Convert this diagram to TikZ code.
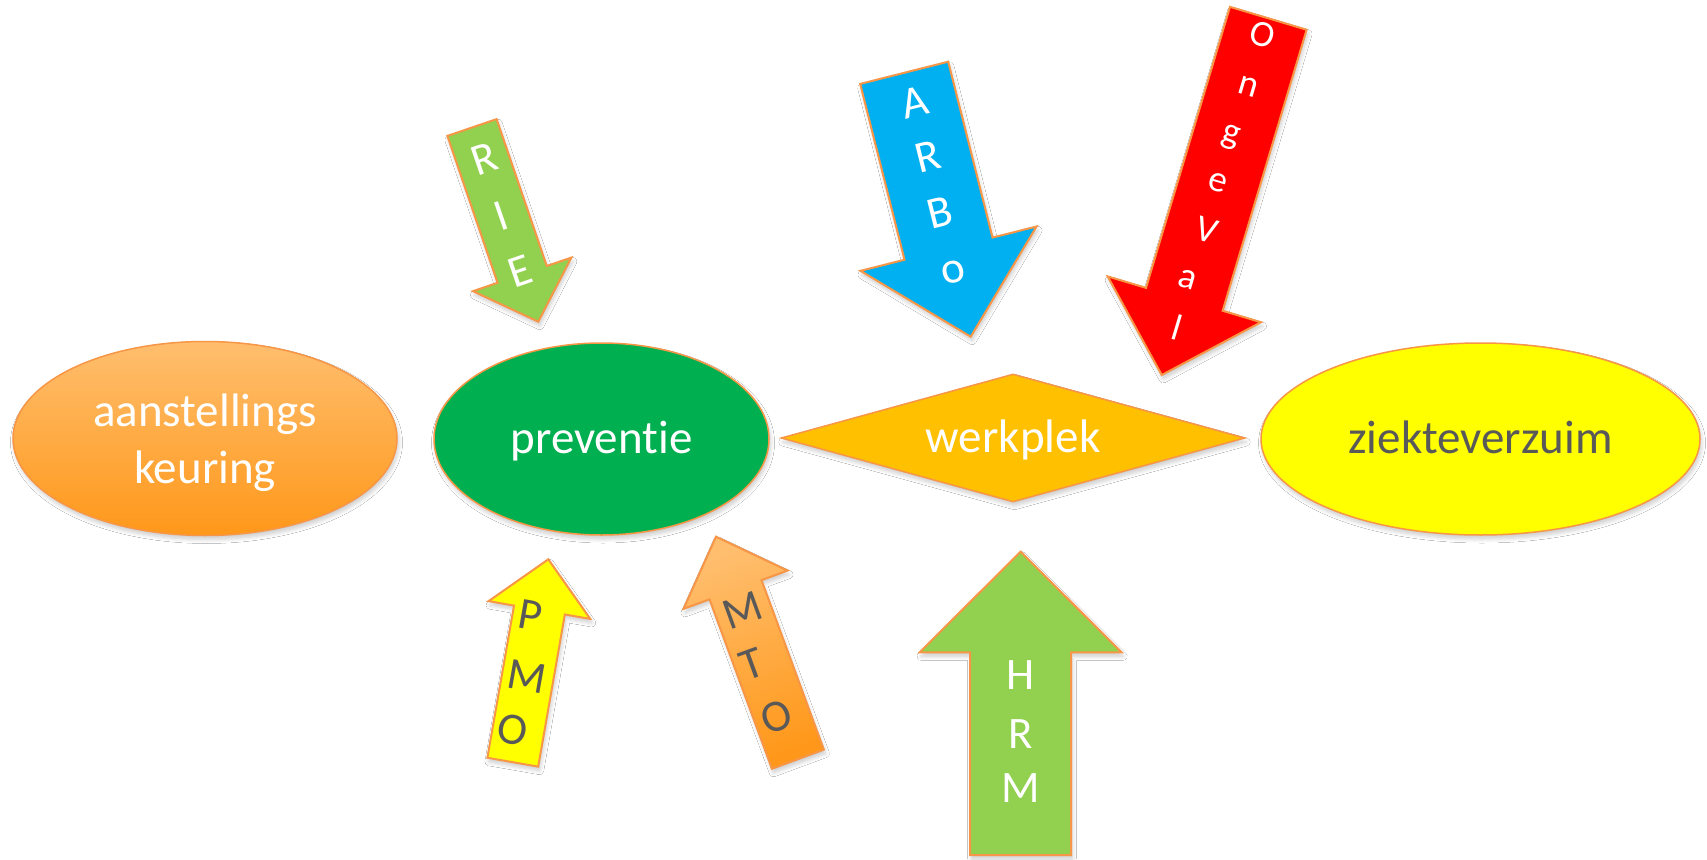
\documentclass[tikz,border=0pt]{standalone}
\usepackage{fontspec}
\setmainfont{Carlito}[Ligatures={NoCommon}]
\usetikzlibrary{calc,shapes.geometric,shadows.blur}

\definecolor{edge}{RGB}{247,150,70}
\definecolor{lightor}{RGB}{255,190,110}
\definecolor{darkor}{RGB}{255,152,26}
\definecolor{prevgreen}{RGB}{0,176,80}
\definecolor{amber}{RGB}{255,192,0}
\definecolor{lime}{RGB}{146,208,80}
\definecolor{sky}{RGB}{0,176,240}
\definecolor{ink}{RGB}{89,89,89}
\definecolor{lemon}{RGB}{255,255,0}
\definecolor{signal}{RGB}{255,0,0}

% block arrow: style, tail centre, tip, half shaft width, head length
% (the head is twice as wide as the shaft)
\newcommand\blockarrow[5]{%
  \coordinate (ba-base) at ($(#3)!#5pt!(#2)$);
  \path[#1]
    ($(#2)!#4pt!90:(#3)$) -- ($(ba-base)!#4pt!90:(#3)$)
    -- ($(ba-base)!2*#4pt!90:(#3)$) -- (#3)
    -- ($(ba-base)!2*#4pt!-90:(#3)$) -- ($(ba-base)!#4pt!-90:(#3)$)
    -- ($(#2)!#4pt!-90:(#3)$) -- cycle;
}

\tikzset{
  soft/.style={blur shadow={shadow xshift=1.5pt, shadow yshift=-4pt,
      shadow blur radius=4pt, shadow opacity=20, shadow blur steps=6}},
  term/.style={draw=edge, line width=1.5pt, inner sep=0pt, soft,
      font=\fontsize{47}{57}\selectfont, text=white,
      text height=38pt, text depth=10pt},
  termtext/.style={inner sep=0pt, font=\fontsize{47}{57}\selectfont, text=white},
  arrowbody/.style={draw=edge, line width=2pt, line join=miter, soft},
  letter/.style={inner sep=0pt, font=\fontsize{45}{54}\selectfont, text=white},
}

\begin{document}
\begin{tikzpicture}[x=1pt, y=-1pt]
\fill[white] (0,0) rectangle (1707,859);
\useasboundingbox (0,0) rectangle (1707,859);

% main chain
\node[term, ellipse, minimum width=384pt, minimum height=194pt,
      top color=lightor, bottom color=darkor] (keur) at (205,438.5) {};
\node[termtext, anchor=base] (keurA) at (205,426.7) {aanstellings};
\node[termtext, anchor=base] (keurB) at (205,483.3) {keuring};

\node[term, ellipse, minimum width=335pt, minimum height=192pt,
      fill=prevgreen] (prev) at (601.5,439) {preventie};

\node[term, diamond, aspect=3.6, minimum width=464pt, minimum height=128pt,
      fill=amber] (werk) at (1013,438) {werkplek};

\node[term, ellipse, minimum width=439pt, minimum height=192pt,
      fill=lemon, text=ink] (ziek) at (1480.5,439) {ziekteverzuim};

% RIE
\coordinate (rieT) at (472,127.5);
\coordinate (rieP) at (538.3,321.7);
\blockarrow{arrowbody, fill=lime}{rieT}{rieP}{26}{50}
\node[letter, rotate=19] (rie1) at (484,159) {R};
\node[letter, rotate=19] (rie2) at (501,216) {I};
\node[letter, rotate=19] (rie3) at (520,271) {E};

% ARBO
\coordinate (arboT) at (904.2,72.8);
\coordinate (arboP) at (970.7,336.7);
\blockarrow{arrowbody, fill=sky}{arboT}{arboP}{45.4}{90.8}
\node[letter, rotate=14] (arbo1) at (915,102) {A};
\node[letter, rotate=14] (arbo2) at (928,157) {R};
\node[letter, rotate=14] (arbo3) at (940,213) {B};
\node[letter, rotate=14] (arbo4) at (953,272) {o};

% OngeVal
\coordinate (ongT) at (1268.3,18.3);
\coordinate (ongP) at (1161.7,375);
\blockarrow{arrowbody, fill=signal}{ongT}{ongP}{40}{79}
\begin{scope}[every node/.style={letter, rotate=-16.6, font=\fontsize{37}{44}\selectfont}]
\node (ong1) at (1263,35) {O};
\node (ong2) at (1248,87) {n};
\node (ong3) at (1230,137) {g};
\node (ong4) at (1218,183) {e};
\node (ong5) at (1207,230) {V};
\node (ong6) at (1188,280) {a};
\node (ong7) at (1177,327) {l};
\end{scope}

% PMO
\coordinate (pmoT) at (512.8,762.2);
\coordinate (pmoP) at (548.3,559.3);
\blockarrow{arrowbody, fill=lemon}{pmoT}{pmoP}{25.8}{51.5}
\node[letter, text=ink, rotate=-10] (pmo1) at (530,615) {P};
\node[letter, text=ink, rotate=-10] (pmo2) at (527,677) {M};
\node[letter, text=ink, rotate=-10] (pmo3) at (513,730) {O};

% MTO
\coordinate (mtoT) at (797.9,759.2);
\coordinate (mtoP) at (716,536.7);
\blockarrow{arrowbody, shading=axis, top color=lightor, bottom color=darkor, shading angle=20}{mtoT}{mtoP}{27.7}{56.5}
\node[letter, text=ink, rotate=20] (mto1) at (743,610) {M};
\node[letter, text=ink, rotate=20] (mto2) at (752,664) {T};
\node[letter, text=ink, rotate=20] (mto3) at (777,717) {O};

% HRM
\coordinate (hrmT) at (1020.6,855);
\coordinate (hrmP) at (1020.6,551.7);
\blockarrow{arrowbody, fill=lime}{hrmT}{hrmP}{50.5}{100.6}
\node[letter] (hrm1) at (1021,675) {H};
\node[letter] (hrm2) at (1021,734) {R};
\node[letter] (hrm3) at (1021,788) {M};
\end{tikzpicture}
\end{document}
